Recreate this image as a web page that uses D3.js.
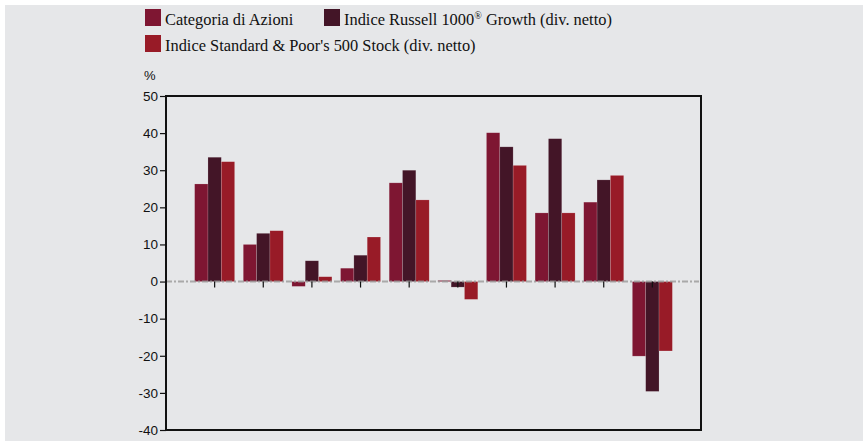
<!DOCTYPE html>
<html lang="it">
<head>
<meta charset="UTF-8">
<title>Rendimenti</title>
<script src="https://d3js.org/d3.v7.min.js"></script>
<style>
    body { margin: 0; background: #fff; }
    text { font-family: "Liberation Sans", Arial, sans-serif; }
    .legend text { font-family: "Liberation Serif", "Times New Roman", serif; font-size: 16.4px; fill: #111; }
</style>
</head>
<body>
<script>
    // dati
    var categories = ["1", "2", "3", "4", "5", "6", "7", "8", "9", "10"];
    var seriesNames = ["Categoria di Azioni", "Indice Russell 1000® Growth (div. netto)", "Indice Standard & Poor's 500 Stock (div. netto)"];
    var categoria = [26.3, 10.0, -1.3, 3.6, 26.6, 0.3, 40.1, 18.5, 21.4, -20.1];
    var russell   = [33.5, 13.0, 5.6, 7.1, 30.0, -1.5, 36.3, 38.5, 27.4, -29.6];
    var sp500     = [32.3, 13.7, 1.3, 12.0, 22.0, -4.8, 31.3, 18.5, 28.6, -18.7];
    var yTicks = [50, 40, 30, 20, 10, 0, -10, -20, -30, -40];
    var colors = ["#7e1632", "#431527", "#981b27"];

    var W = 863, H = 441;
    var svg = d3.select("body").append("svg")
        .attr("width", W)
        .attr("height", H);

    svg.append("rect")
        .attr("x", 5).attr("y", 5)
        .attr("width", W - 5).attr("height", H - 5)
        .attr("fill", "#e6e7e9");

    var pLeft = 166, pRight = 701, pTop = 96, pBottom = 430;

    var x = d3.scalePoint().domain(categories).range([pLeft, pRight]).padding(1);
    var y = d3.scaleLinear().domain([-40, 50]).range([pBottom, pTop]);
    var x1 = d3.scaleBand().domain([0, 1, 2]).range([-20, 20]);

    var series = [categoria, russell, sp500];
    var data = [];
    categories.forEach(function (c, i) {
        series.forEach(function (s, k) {
            data.push({cat: c, k: k, value: s[i]});
        });
    });

    // barre
    svg.append("g").selectAll("rect")
        .data(data)
        .enter().append("rect")
        .attr("x", function (d) { return x(d.cat) + x1(d.k); })
        .attr("width", x1.bandwidth())
        .attr("y", function (d) { return y(Math.max(0, d.value)); })
        .attr("height", function (d) { return Math.abs(y(d.value) - y(0)); })
        .attr("fill", function (d) { return colors[d.k]; })
        .attr("stroke", "rgba(255,255,255,0.25)")
        .attr("stroke-width", 0.6);

    // linea dello zero
    svg.append("line")
        .attr("x1", pLeft).attr("x2", pRight - 2)
        .attr("y1", y(0)).attr("y2", y(0))
        .attr("stroke", "#9a9a9a")
        .attr("stroke-width", 2)
        .attr("stroke-dasharray", "6,2,2,2")
        .attr("opacity", 0.8);

    // tacche delle categorie
    svg.append("g").selectAll("line")
        .data(categories)
        .enter().append("line")
        .attr("x1", function (d) { return x(d); })
        .attr("x2", function (d) { return x(d); })
        .attr("y1", y(0))
        .attr("y2", y(0) + 6)
        .attr("stroke", "#111")
        .attr("stroke-width", 1.2);

    // cornice
    svg.append("rect")
        .attr("x", pLeft).attr("y", pTop)
        .attr("width", pRight - pLeft).attr("height", pBottom - pTop)
        .attr("fill", "none")
        .attr("stroke", "#111")
        .attr("stroke-width", 2);

    // asse y (trattino semplice come nell'originale)
    var yAxis = d3.axisLeft(y).tickValues(yTicks).tickSize(6).tickPadding(2)
        .tickFormat(function (d) { return String(d); });
    var ga = svg.append("g")
        .attr("transform", "translate(" + pLeft + ",0)")
        .call(yAxis);
    ga.select(".domain").remove();
    ga.selectAll("line").attr("stroke", "#111").attr("stroke-width", 1.2);
    ga.selectAll("text")
        .attr("font-family", "Liberation Sans, Arial, sans-serif")
        .attr("font-size", 13.5)
        .attr("fill", "#111");

    svg.append("text")
        .attr("x", 144).attr("y", 80)
        .attr("font-size", 13)
        .attr("fill", "#111")
        .text("%");

    // legenda
    var legendPos = [[145, 9], [324, 9], [145, 35]];
    var lg = svg.append("g").attr("class", "legend");
    seriesNames.forEach(function (name, k) {
        var p = legendPos[k];
        lg.append("rect")
            .attr("x", p[0]).attr("y", p[1])
            .attr("width", 16).attr("height", 17)
            .attr("fill", colors[k]);
        var t = lg.append("text")
            .attr("x", p[0] + 20).attr("y", p[1] + 16);
        if (k === 1) {
            t.append("tspan").text("Indice Russell 1000");
            t.append("tspan").attr("font-size", 10).attr("dy", -6).text("®");
            t.append("tspan").attr("dy", 6).text(" Growth (div. netto)");
        } else {
            t.text(name);
        }
    });
</script>
</body>
</html>
